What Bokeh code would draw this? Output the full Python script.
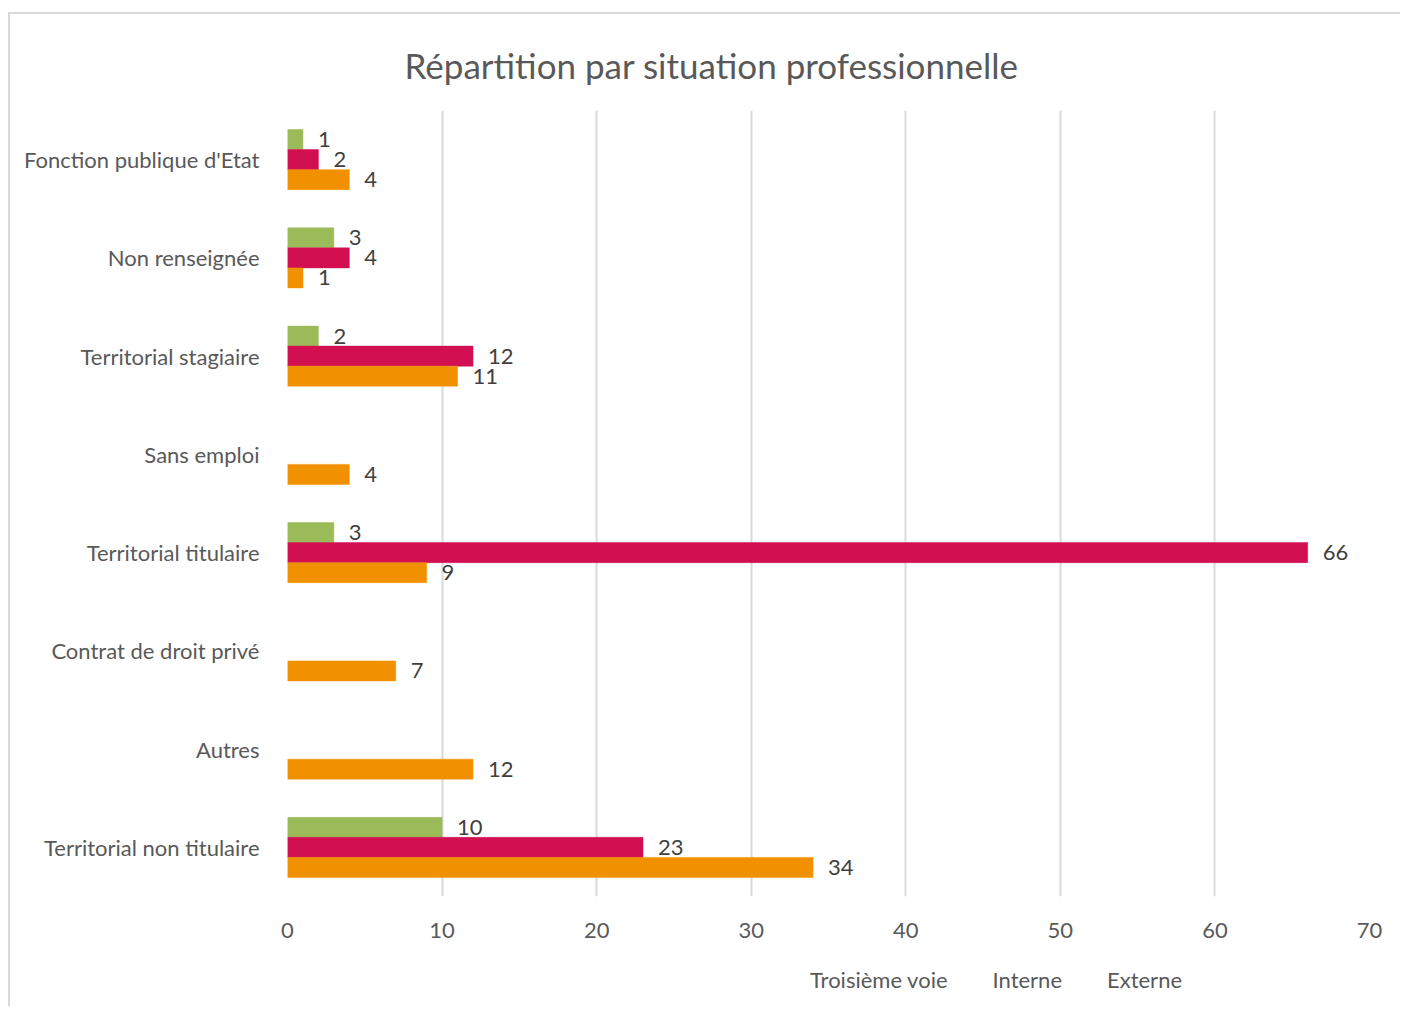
from bokeh.plotting import figure
from bokeh.models import FactorRange, ColumnDataSource, Legend, LegendItem, LabelSet, Range1d
from bokeh.layouts import column
from bokeh.transform import dodge
from bokeh.core.properties import value
from bokeh.embed import file_html
from bokeh.resources import INLINE

categories = ["Fonction publique d'Etat", "Non renseignée", "Territorial stagiaire", "Sans emploi",
              "Territorial titulaire", "Contrat de droit privé", "Autres", "Territorial non titulaire"]
troisieme = [1, 3, 2, None, 3, None, None, 10]
interne = [2, 4, 12, None, 66, None, None, 23]
externe = [4, 1, 11, 4, 9, 7, 12, 34]
x_ticks = [0, 10, 20, 30, 40, 50, 60, 70]
series_names = ["Troisième voie", "Interne", "Externe"]
colors = ["#9BBB59", "#D20F50", "#F29100"]

FONT = "Lato"

p = figure(frame_width=1082, frame_height=786, output_backend="svg", toolbar_location=None,
           y_range=FactorRange(factors=list(reversed(categories)), range_padding=0),
           x_range=(0, 70), min_border_left=277, min_border_right=31,
           min_border_top=96, min_border_bottom=60,
           title="Répartition par situation professionnelle")
p.outline_line_color = None
p.background_fill_color = "white"

p.title.align = "left"
p.title.offset = 117
p.title.text_font = FONT
p.title.text_font_size = "35px"
p.title.text_font_style = "normal"
p.title.text_color = "#595959"
p.title.standoff = 50

bh = 0.2036
offsets = [bh, 0.0, -bh]
series = [troisieme, interne, externe]
for name, vals, col, off in zip(series_names, series, colors, offsets):
    cats = [c for c, v in zip(categories, vals) if v is not None]
    vs = [v for v in vals if v is not None]
    src = ColumnDataSource(dict(cat=cats, val=vs, lab=[str(v) for v in vs]))
    p.hbar(y=dodge("cat", off, range=p.y_range), right="val", left=0, height=bh,
           source=src, fill_color=col, line_color=col, line_width=0.5)
    p.add_layout(LabelSet(x="val", y=dodge("cat", off, range=p.y_range), text="lab", source=src,
                          x_offset=15, text_baseline="middle", text_font=value(FONT),
                          text_font_size="22px", text_color="#404040"))

p.xaxis.ticker = x_ticks
p.xgrid.ticker = x_ticks
p.xgrid.grid_line_color = "#d9d9d9"
p.xgrid.grid_line_width = 2
p.ygrid.grid_line_color = None
for ax in (p.xaxis[0], p.yaxis[0]):
    ax.axis_line_color = None
    ax.major_tick_line_color = None
    ax.minor_tick_line_color = None
    ax.major_label_text_font = FONT
    ax.major_label_text_font_size = "22px"
    ax.major_label_text_color = "#595959"
p.xaxis.major_label_standoff = 20
p.yaxis.major_label_standoff = 22

# legend strip below the chart (same series styles, no data drawn)
pl = figure(width=1390, height=50, output_backend="svg", toolbar_location=None,
            x_axis_location=None, y_axis_location=None,
            x_range=Range1d(0, 1), y_range=Range1d(0, 1),
            min_border_left=0, min_border_right=0, min_border_top=0, min_border_bottom=0)
pl.outline_line_color = None
pl.grid.grid_line_color = None
legend_items = []
for name, col in zip(series_names, colors):
    r = pl.hbar(y="y", right="x", left=0, height=1, source=ColumnDataSource(dict(y=[], x=[])),
                fill_color=col, line_color=col)
    legend_items.append(LegendItem(label=name, renderers=[r]))
legend = Legend(items=legend_items, orientation="horizontal", location=(505, 13),
                glyph_width=13, glyph_height=13, padding=0, margin=0, spacing=27, label_standoff=5,
                border_line_color=None, background_fill_alpha=0,
                label_text_font=FONT, label_text_font_size="22px", label_text_color="#595959")
pl.add_layout(legend, "center")

lay = column(p, pl, spacing=0)
lay.margin = (12, 0, 0, 8)
lay.styles = {"border-left": "2px solid #d9d9d9", "border-top": "2px solid #d9d9d9"}

open("out.html", "w").write(file_html(lay, INLINE))
